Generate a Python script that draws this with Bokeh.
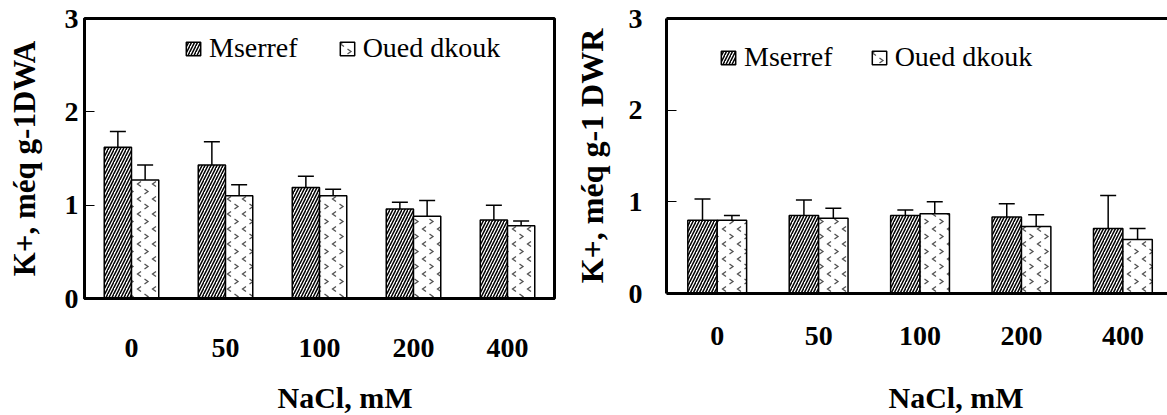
import base64
from bokeh.plotting import figure
from bokeh.models import (ColumnDataSource, FixedTicker, Legend, LegendItem, Whisker,
                          TeeHead, Title, LinearAxis, Range1d, ImageURLTexture)
from bokeh.core.properties import value
from bokeh.layouts import row
from bokeh.embed import file_html
from bokeh.resources import INLINE

# ---------------- data ----------------
nacl = ["0", "50", "100", "200", "400"]
series = ["Mserref", "Oued dkouk"]
y_ticks = [0, 1, 2, 3]

# panel A (K+, méq g-1 DWA)
a_mserref = [1.62, 1.43, 1.19, 0.96, 0.84]
a_mserref_err = [0.17, 0.25, 0.12, 0.07, 0.16]
a_oued = [1.27, 1.10, 1.10, 0.88, 0.78]
a_oued_err = [0.16, 0.12, 0.07, 0.17, 0.05]

# panel R (K+, méq g-1 DWR)
r_mserref = [0.80, 0.85, 0.85, 0.835, 0.71]
r_mserref_err = [0.23, 0.17, 0.06, 0.145, 0.36]
r_oued = [0.80, 0.82, 0.87, 0.73, 0.59]
r_oued_err = [0.05, 0.11, 0.13, 0.13, 0.12]

FONT = "Liberation Serif"
BW = 0.29

# small chevron tile used as the fill pattern of the "Oued dkouk" bars
CHEV_SVG = ('<svg xmlns="http://www.w3.org/2000/svg" width="15" height="15">'
            '<rect width="15" height="15" fill="white"/>'
            '<path d="M6 1.5 L2.5 4 L6 6.5 M9.5 9 L13 11.5 L9.5 14" '
            'stroke="#505050" stroke-width="1.3" fill="none"/></svg>')
CHEV_URL = "data:image/svg+xml;base64," + base64.b64encode(CHEV_SVG.encode()).decode()


def make_panel(m, m_err, o, o_err, ytitle, width, min_left, min_right, min_bottom, x_end,
               full_frame, legend_loc, legend_spacing, xlab_standoff, xpad,
               xtitle_offset, ytitle_size, ylab_standoff, ytitle_standoff):
    idx = list(range(len(nacl)))
    src_m = ColumnDataSource(dict(
        x=[i - BW / 2 for i in idx], top=m,
        up=[v + e for v, e in zip(m, m_err)]))
    src_o = ColumnDataSource(dict(
        x=[i + BW / 2 for i in idx], top=o,
        up=[v + e for v, e in zip(o, o_err)]))

    p = figure(width=width, height=415, output_backend="svg", toolbar_location=None,
               x_range=Range1d(-0.5, x_end), y_range=Range1d(0, 3),
               min_border_left=min_left, min_border_right=min_right, min_border_top=18,
               min_border_bottom=min_bottom)
    if "frame_align" in p.properties():
        p.frame_align = False
    p.grid.visible = False
    p.background_fill_color = "white"
    p.border_fill_color = "white"

    for w in [src_m, src_o]:
        p.add_layout(Whisker(source=w, base="x", lower="top", upper="up",
                             lower_head=None,
                             upper_head=TeeHead(size=16, line_width=1.5, line_color="black"),
                             line_width=1.5, line_color="black", level="underlay"))

    r1 = p.vbar(x="x", top="top", width=BW, bottom=0, source=src_m,
                fill_color="white", line_color="black", line_width=1.5,
                hatch_pattern="/", hatch_color="black", hatch_scale=6, hatch_weight=1.5)
    r2 = p.vbar(x="x", top="top", width=BW, bottom=0, source=src_o,
                fill_color="white", line_color="black", line_width=1.5,
                hatch_pattern=value("chev"),
                hatch_extra={"chev": ImageURLTexture(url=CHEV_URL)},
                hatch_color="#505050", hatch_scale=15, hatch_weight=1.3)

    # x axis (bottom)
    xa = p.below[0]
    xa.ticker = FixedTicker(ticks=idx)
    xa.major_label_overrides = {i: nacl[i] for i in idx}
    xa.major_tick_in = 0
    xa.major_tick_out = 0
    xa.minor_tick_line_color = None
    xa.axis_line_width = 3
    xa.major_label_standoff = xlab_standoff
    xa.major_label_text_font = FONT
    xa.major_label_text_font_style = "bold"
    xa.major_label_text_font_size = "28px"
    xa.major_label_text_color = "black"
    # blank spacer label so that the title sits at the bottom edge
    xa.axis_label = " "
    xa.axis_label_text_font_size = "2px"
    xa.axis_label_standoff = xpad

    ya = p.left[0]
    ya.ticker = FixedTicker(ticks=y_ticks)
    ya.major_tick_in = 10
    ya.major_tick_out = 0
    ya.major_tick_line_width = 1
    ya.minor_tick_line_color = None
    ya.axis_line_width = 3
    ya.major_label_standoff = ylab_standoff
    ya.major_label_text_font = FONT
    ya.major_label_text_font_style = "bold"
    ya.major_label_text_font_size = "28px"
    ya.major_label_text_color = "black"
    ya.axis_label = ytitle
    ya.axis_label_text_font = FONT
    ya.axis_label_text_font_style = "bold"
    ya.axis_label_text_font_size = ytitle_size
    ya.axis_label_text_color = "black"
    ya.axis_label_standoff = ytitle_standoff

    if full_frame:
        p.outline_line_color = "black"
        p.outline_line_width = 3
    else:
        p.outline_line_color = None
        top_ax = LinearAxis(ticker=FixedTicker(ticks=[]), axis_line_width=3,
                            axis_line_color="black", major_tick_in=0, major_tick_out=0,
                            minor_tick_in=0, minor_tick_out=0,
                            major_label_text_font_size="0px")
        p.add_layout(top_ax, "above")

    p.add_layout(Title(text="NaCl, mM", align="left", offset=xtitle_offset,
                       text_font=FONT, text_font_style="bold", text_font_size="30px",
                       text_color="black", standoff=1), "below")

    leg = Legend(items=[LegendItem(label=series[0], renderers=[r1]),
                        LegendItem(label=series[1], renderers=[r2])],
                 orientation="horizontal", location=legend_loc,
                 glyph_width=18, glyph_height=17, label_standoff=7, spacing=legend_spacing,
                 padding=0, margin=0, border_line_color=None, background_fill_alpha=0,
                 label_text_font=FONT, label_text_font_size="28px",
                 label_text_color="black")
    p.add_layout(leg, "center")
    return p


left = make_panel(a_mserref, a_mserref_err, a_oued, a_oued_err, "K+, méq g-1DWA",
                  width=570, min_left=84, min_right=16, min_bottom=117, x_end=4.5,
                  full_frame=True, legend_loc=(100, 234), legend_spacing=40,
                  xlab_standoff=40, xpad=14, xtitle_offset=193, ytitle_size="31px",
                  ylab_standoff=6, ytitle_standoff=20)

right = make_panel(r_mserref, r_mserref_err, r_oued, r_oued_err, "K+, méq g-1 DWR",
                   width=597, min_left=90, min_right=0, min_bottom=122, x_end=4.44,
                   full_frame=False, legend_loc=(53, 220), legend_spacing=37,
                   xlab_standoff=33, xpad=26, xtitle_offset=222, ytitle_size="32px",
                   ylab_standoff=24, ytitle_standoff=16)

layout = row(left, right, spacing=0)
open("out.html", "w").write(file_html(layout, INLINE))
